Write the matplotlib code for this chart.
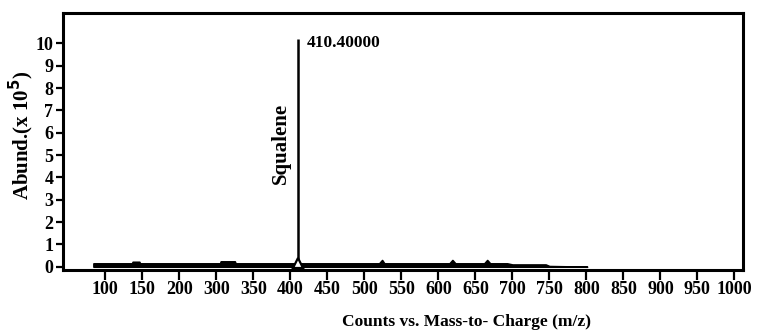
import numpy as np
import matplotlib
matplotlib.use("Agg")
import matplotlib.pyplot as plt

# tick labels as printed on the chart (250 is not printed)
tick_values = [100, 150, 200, 300, 350, 400, 450, 500, 550, 600,
               650, 700, 750, 800, 850, 900, 950, 1000]
y_ticks = list(range(0, 11))

# main peak
peak_mz = 410.4
peak_abund = 10.2          # x 10^5
peak_label = "410.40000"
compound = "Squalene"

# low-level baseline signal (x 10^5)
base_mz = [84, 120, 136, 137, 146, 147, 180, 250, 300, 305, 306, 325, 326,
           340, 400, 520, 524, 527, 560, 615, 619, 623, 662, 666, 670, 693,
           700, 745, 750, 801]
base_abund = [0.15, 0.15, 0.15, 0.22, 0.22, 0.15, 0.15, 0.15, 0.15, 0.15,
              0.24, 0.24, 0.15, 0.15, 0.15, 0.15, 0.3, 0.15, 0.15, 0.15,
              0.3, 0.15, 0.15, 0.3, 0.15, 0.15, 0.1, 0.1, 0.03, 0.0]

plt.rcParams['font.family'] = ['Liberation Serif', 'DejaVu Serif']
plt.rcParams['font.weight'] = 'bold'

# the printed axis is evenly spaced per tick, so map m/z onto tick index
xp = [0] + tick_values + [1100]
fp = [-2] + list(range(len(tick_values))) + [len(tick_values) + 1]


def fwd(v):
    return np.interp(v, xp, fp)


def inv(i):
    return np.interp(i, fp, xp)


fig = plt.figure(figsize=(7.6, 3.33), dpi=100)
ax = fig.add_axes([0.083, 0.189, 0.895, 0.772])
ax.set_xscale('function', functions=(fwd, inv))

ax.fill_between(base_mz, 0, base_abund, color='black', lw=1.2)
ax.vlines(peak_mz, 0, peak_abund, color='black', lw=1.8)
ax.plot([peak_mz], [0.15], marker='^', ms=7, mfc='white', mec='black',
        mew=1.6)

ax.annotate(peak_label, (peak_mz, 10.0), xytext=(6, 0),
            textcoords='offset points', va='center', ha='left',
            fontsize=12.5, fontweight='bold')
ax.annotate(compound, (peak_mz, 5.5), xytext=(-12, 0),
            textcoords='offset points', va='center', ha='center',
            rotation=90, fontsize=15, fontweight='bold')

ax.set_xlim(43, 1012)
ax.set_ylim(-0.15, 11.36)
ax.set_xticks(tick_values)
ax.set_xticklabels([str(t) for t in tick_values])
ax.set_yticks(y_ticks)
ax.minorticks_off()

ax.tick_params(axis='x', direction='out', length=7, width=1.6, pad=1,
               labelsize=13)
ax.tick_params(axis='y', direction='out', length=5, width=1.6, pad=2,
               labelsize=13)
for lab in ax.get_xticklabels() + ax.get_yticklabels():
    lab.set_fontweight('bold')

for s in ax.spines.values():
    s.set_linewidth(2.2)

ax.set_ylabel(r"Abund.(x 10$^{\mathbf{5}}$)", fontsize=15, fontweight='bold')
ax.yaxis.set_label_coords(-0.061, 0.525)
ax.yaxis.label.set_va('center')
ax.set_xlabel("Counts vs. Mass-to- Charge (m/z)", fontsize=12.5,
              fontweight='bold')
ax.xaxis.set_label_coords(0.593, -0.202)
ax.xaxis.label.set_va('center')

fig.savefig("out.png", dpi=100)
